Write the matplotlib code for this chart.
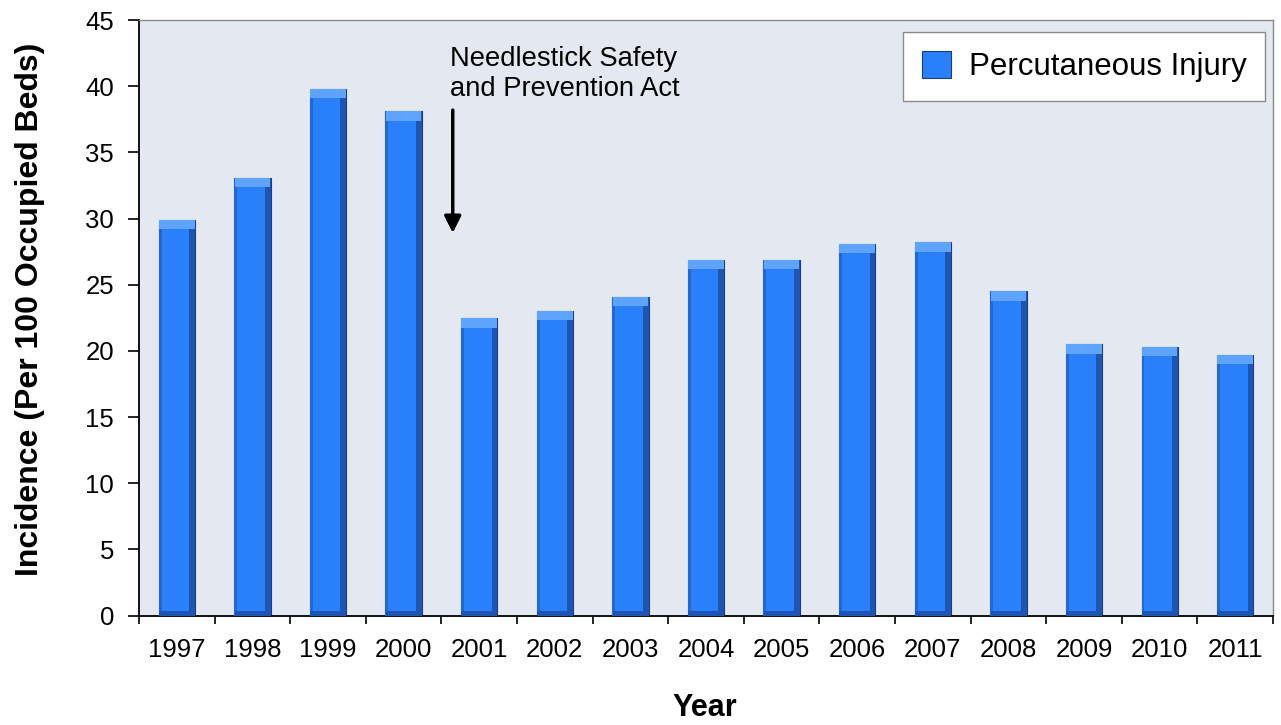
import matplotlib
matplotlib.use('Agg')
import matplotlib.pyplot as plt
import numpy as np

plt.rcParams['font.family'] = ['Liberation Sans', 'DejaVu Sans']

years = ['1997', '1998', '1999', '2000', '2001', '2002', '2003', '2004',
         '2005', '2006', '2007', '2008', '2009', '2010', '2011']
incidence = [29.9, 33.05, 39.8, 38.1, 22.45, 23.0, 24.1, 26.9,
             26.9, 28.1, 28.2, 24.5, 20.5, 20.3, 19.7]
series_name = 'Percutaneous Injury'
y_ticks = [0, 5, 10, 15, 20, 25, 30, 35, 40, 45]

fig = plt.figure(figsize=(12.81, 7.25), dpi=100)
ax = fig.add_axes([0.1085, 0.1509, 0.8853, 0.8215])
ax.set_facecolor('#E4E8F0')

x = np.arange(len(years))
vals = np.array(incidence)
w = 0.48

# main bar
ax.bar(x, vals, width=w, color='#2A7FFA', edgecolor='#1A3C86',
       linewidth=0.8, label=series_name, zorder=2)
# bevel: dark right side, light left side, light top cap, dark base
ax.bar(x + w * 0.42, vals, width=w * 0.16, color='#1E55B0', linewidth=0, zorder=3)
ax.bar(x - w * 0.46, vals, width=w * 0.08, color='#2268D0', linewidth=0, zorder=3)
ax.bar(x, 0.7, bottom=vals - 0.7, width=w * 0.98, color='#5EA3FF', linewidth=0, zorder=4)
ax.bar(x, 0.35, width=w * 0.98, color='#1D55B5', linewidth=0, zorder=4)

ax.set_xlim(-0.5, len(years) - 0.5)
ax.set_ylim(0, 45)
ax.set_yticks(y_ticks)
ax.set_xticks(x)
ax.set_xticklabels(years)
ax.set_xticks(np.arange(len(years) + 1) - 0.5, minor=True)
ax.tick_params(axis='x', which='major', length=0, pad=16, labelsize=18.5)
ax.tick_params(axis='x', which='minor', length=6, width=1.2, direction='out')
ax.tick_params(axis='y', length=8, width=1.2, direction='out', pad=10, labelsize=18.5)

for s in ['left', 'bottom']:
    ax.spines[s].set_color('black')
    ax.spines[s].set_linewidth(1.3)
for s in ['top', 'right']:
    ax.spines[s].set_color('#8a8a8a')
    ax.spines[s].set_linewidth(1.0)

fig.text(30 / 1281, 1 - 309 / 725, 'Incidence (Per 100 Occupied Beds)',
         rotation=90, ha='center', va='center', fontsize=23, fontweight='bold')
fig.text(0.5505, 1 - 708 / 725, 'Year', ha='center', va='center',
         fontsize=22, fontweight='bold')

ax.annotate('', xy=(3.65, 28.7), xytext=(3.65, 38.4),
            arrowprops=dict(arrowstyle='-|>,head_length=0.5,head_width=0.25',
                            color='black', lw=2.5, mutation_scale=20))
ax.text(3.62, 43.0, 'Needlestick Safety\nand Prevention Act', fontsize=19.7,
        ha='left', va='top')

leg = ax.legend(loc='upper right', bbox_to_anchor=(0.993, 0.98), fontsize=22.5,
                fancybox=False, framealpha=1, edgecolor='#8a8a8a',
                borderpad=0.6, handlelength=0.95, handleheight=0.95,
                handletextpad=0.55, borderaxespad=0)
leg.get_frame().set_linewidth(1.0)

fig.savefig('out.png', dpi=100)
